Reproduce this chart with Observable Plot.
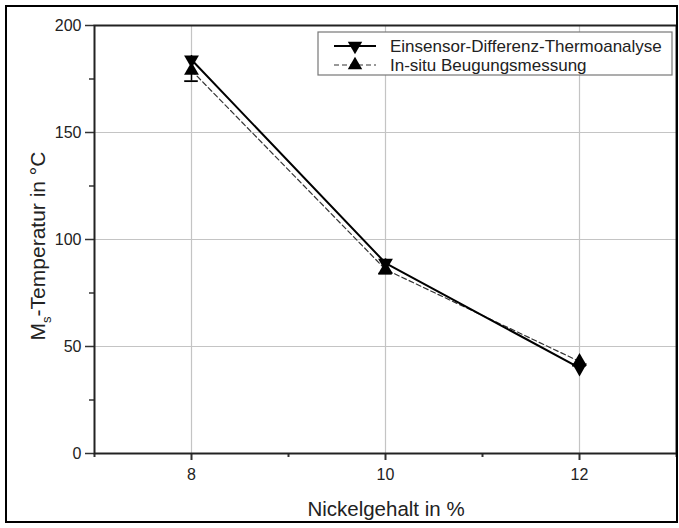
<!DOCTYPE html>
<html>
<head>
<meta charset="utf-8">
<script src="https://cdn.jsdelivr.net/npm/d3@7"></script>
<script src="https://cdn.jsdelivr.net/npm/@observablehq/plot@0.6"></script>
<style>
  html, body { margin: 0; padding: 0; background: #fff; }
  #wrap { position: relative; width: 679px; height: 528px; }
  #border { position: absolute; left: 5px; top: 5px; width: 673px; height: 518px; border: 2px solid #000; box-sizing: border-box; pointer-events: none; }
</style>
</head>
<body>
<div id="wrap"><div id="chart"></div><div id="border"></div></div>
<script>
// Data
const nickel = [8, 10, 12];
const dtaValues = [184, 89, 40];
const dtaErr = [2, 2, 2];
const diffValues = [179, 86, 43];
const diffErr = [5, 2, 2];
const xTicks = [8, 10, 12];
const xMinorTicks = [7, 9, 11, 13];
const yTicks = [0, 50, 100, 150, 200];
const yMinorTicks = [25, 75, 125, 175];
const yGrid = [50, 100, 150];
const seriesNames = ["Einsensor-Differenz-Thermoanalyse", "In-situ Beugungsmessung"];

const dta = nickel.map((x, i) => ({x, y: dtaValues[i], lo: dtaValues[i] - dtaErr[i], hi: dtaValues[i] + dtaErr[i]}));
const diff = nickel.map((x, i) => ({x, y: diffValues[i], lo: diffValues[i] - diffErr[i], hi: diffValues[i] + diffErr[i]}));
const capHalf = 0.07;

const font = "'Liberation Sans', Arial, sans-serif";
const plot = Plot.plot({
  width: 679,
  height: 528,
  marginLeft: 94,
  marginRight: 3,
  marginTop: 25,
  marginBottom: 75,
  x: {type: "linear", domain: [7, 13]},
  y: {type: "linear", domain: [0, 200]},
  style: {fontFamily: font, fontSize: "16px", background: "#fff", color: "#222"},
  marks: [
    Plot.gridX(xTicks, {stroke: "#c4c4c4", strokeOpacity: 1, strokeWidth: 1.2}),
    Plot.gridY(yGrid, {stroke: "#c4c4c4", strokeOpacity: 1, strokeWidth: 1.2}),
    Plot.axisX(xTicks, {tickSize: 7, tickPadding: 8, stroke: "#333", strokeWidth: 2, fontSize: 16, label: null}),
    Plot.axisX(xMinorTicks, {tickSize: 4, stroke: "#333", strokeWidth: 2, text: null, label: null}),
    Plot.axisY(yTicks, {tickSize: 9, tickPadding: 4, stroke: "#333", strokeWidth: 1.5, fontSize: 16, label: null}),
    Plot.axisY(yMinorTicks, {tickSize: 5, stroke: "#333", strokeWidth: 1.5, text: null, label: null}),
    Plot.line(diff, {x: "x", y: "y", stroke: "#333", strokeWidth: 1.2, strokeDasharray: "5,3"}),
    Plot.line(dta, {x: "x", y: "y", stroke: "#000", strokeWidth: 2}),
    Plot.ruleX(diff, {x: "x", y1: "lo", y2: "hi", stroke: "#000", strokeWidth: 1.5}),
    Plot.ruleY(diff, {y: "lo", x1: d => d.x - capHalf, x2: d => d.x + capHalf, stroke: "#000", strokeWidth: 1.8}),
    Plot.ruleX(dta, {x: "x", y1: "lo", y2: "hi", stroke: "#000", strokeWidth: 1.5}),
    Plot.dot(diff, {x: "x", y: "y", symbol: "triangle", fill: "#000", stroke: "none", r: 5.5}),
    Plot.dot(dta, {x: "x", y: "y", symbol: "triangle", rotate: 180, fill: "#000", stroke: "none", r: 5.5}),
    Plot.frame({stroke: "#222", strokeWidth: 2})
  ]
});
document.getElementById("chart").appendChild(plot);

const svg = d3.select(plot);
// Axis titles
svg.append("text")
  .attr("x", 386).attr("y", 516)
  .attr("text-anchor", "middle")
  .attr("font-family", font).attr("font-size", 20.5).attr("fill", "#222")
  .text("Nickelgehalt in %");
const yl = svg.append("text")
  .attr("transform", "translate(45,246) rotate(-90)")
  .attr("text-anchor", "middle")
  .attr("font-family", font).attr("font-size", 21).attr("fill", "#222");
yl.append("tspan").text("M");
yl.append("tspan").attr("font-size", 13).attr("dy", 6).text("s");
yl.append("tspan").attr("dy", -6).text("-Temperatur in °C");

// Legend
const lg = svg.append("g");
lg.append("rect").attr("x", 318).attr("y", 32).attr("width", 354).attr("height", 43)
  .attr("fill", "#fff").attr("stroke", "#777").attr("stroke-width", 1.2);
const rows = [
  {y: 46, dash: null, w: 2, rot: 180},
  {y: 65, dash: "5,3", w: 1.2, rot: 0}
];
rows.forEach((r, i) => {
  lg.append("line").attr("x1", 334).attr("x2", 376).attr("y1", r.y).attr("y2", r.y)
    .attr("stroke", i ? "#333" : "#000").attr("stroke-width", r.w).attr("stroke-dasharray", r.dash);
  lg.append("path").attr("d", d3.symbol(d3.symbolTriangle, 90)())
    .attr("transform", `translate(355,${r.y}) rotate(${r.rot})`).attr("fill", "#000");
  lg.append("text").attr("x", 390).attr("y", r.y).attr("dy", "0.35em")
    .attr("text-anchor", "start")
    .attr("font-family", font).attr("font-size", 17).attr("fill", "#222")
    .text(seriesNames[i]);
});
</script>
</body>
</html>
